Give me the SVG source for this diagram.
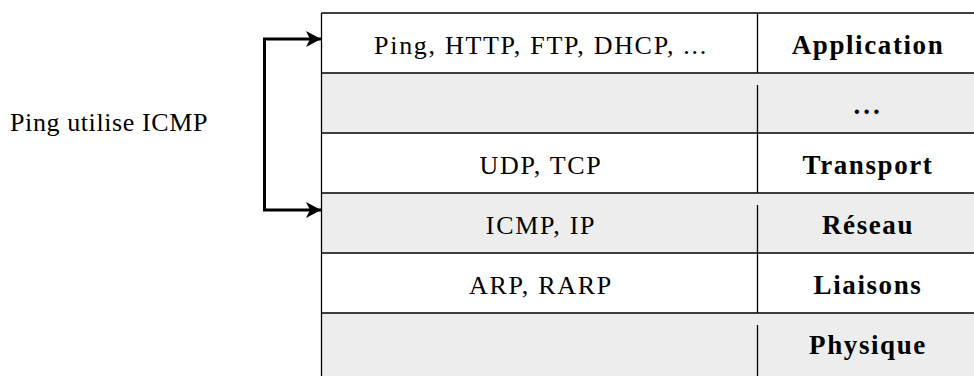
<svg xmlns="http://www.w3.org/2000/svg" width="974" height="376" viewBox="0 0 974 376">
  <style>
    .txt { font-family: "Liberation Serif", "Times New Roman", serif; font-size: 26px; fill: #000; text-anchor: middle; letter-spacing: 1.7px; }
    .lbl { font-weight: bold; font-size: 27px; letter-spacing: 1.6px; }
    .gray { fill: #ededed; }
    .rule { stroke: #000; stroke-width: 1.3; fill: none; }
    .link { stroke: #000; stroke-width: 3; fill: none; }
  </style>
  <defs>
    <marker id="head" markerUnits="userSpaceOnUse" markerWidth="18" markerHeight="18" refX="15" refY="8" orient="auto-start-reverse">
      <path d="M0,0 L15,8 L0,16 L4,8 Z" fill="#000"/>
    </marker>
  </defs>
  <rect width="974" height="376" fill="#fff"/>

  <!-- protocol stack rows -->
  <g id="row-application">
    <line class="rule" x1="321.5" y1="13" x2="974" y2="13"/>
    <line class="rule" x1="757.5" y1="13" x2="757.5" y2="73"/>
    <text class="txt" x="541" y="54">Ping, HTTP, FTP, DHCP, ...</text>
    <text class="txt lbl" x="868" y="54">Application</text>
  </g>
  <g id="row-other">
    <rect class="gray" x="321.5" y="73" width="652.5" height="60"/>
    <line class="rule" x1="321.5" y1="73" x2="974" y2="73"/>
    <line class="rule" x1="757.5" y1="85" x2="757.5" y2="133"/>
    <text class="txt lbl" x="868" y="114" style="letter-spacing:3px">...</text>
  </g>
  <g id="row-transport">
    <line class="rule" x1="321.5" y1="133" x2="974" y2="133"/>
    <line class="rule" x1="757.5" y1="133" x2="757.5" y2="193"/>
    <text class="txt" x="541" y="174">UDP, TCP</text>
    <text class="txt lbl" x="868" y="174">Transport</text>
  </g>
  <g id="row-reseau">
    <rect class="gray" x="321.5" y="193" width="652.5" height="60"/>
    <line class="rule" x1="321.5" y1="193" x2="974" y2="193"/>
    <line class="rule" x1="757.5" y1="205" x2="757.5" y2="253"/>
    <text class="txt" x="541" y="234">ICMP, IP</text>
    <text class="txt lbl" x="868" y="234">Réseau</text>
  </g>
  <g id="row-liaisons">
    <line class="rule" x1="321.5" y1="253" x2="974" y2="253"/>
    <line class="rule" x1="757.5" y1="253" x2="757.5" y2="313"/>
    <text class="txt" x="541" y="294">ARP, RARP</text>
    <text class="txt lbl" x="868" y="294">Liaisons</text>
  </g>
  <g id="row-physique">
    <rect class="gray" x="321.5" y="313" width="652.5" height="63"/>
    <line class="rule" x1="321.5" y1="313" x2="974" y2="313"/>
    <line class="rule" x1="757.5" y1="325" x2="757.5" y2="376"/>
    <text class="txt lbl" x="868" y="354">Physique</text>
  </g>
  <g id="stack-border">
    <line class="rule" x1="321.5" y1="13" x2="321.5" y2="376"/>
  </g>

  <g id="note">
    <text class="txt" x="10" y="131" style="text-anchor:start; letter-spacing:0.6px">Ping utilise ICMP</text>
  </g>

  <!-- connectors -->
  <g id="connectors">
    <path class="link" d="M321,39 H264.5 V210 H321" marker-start="url(#head)" marker-end="url(#head)"/>
  </g>
</svg>
